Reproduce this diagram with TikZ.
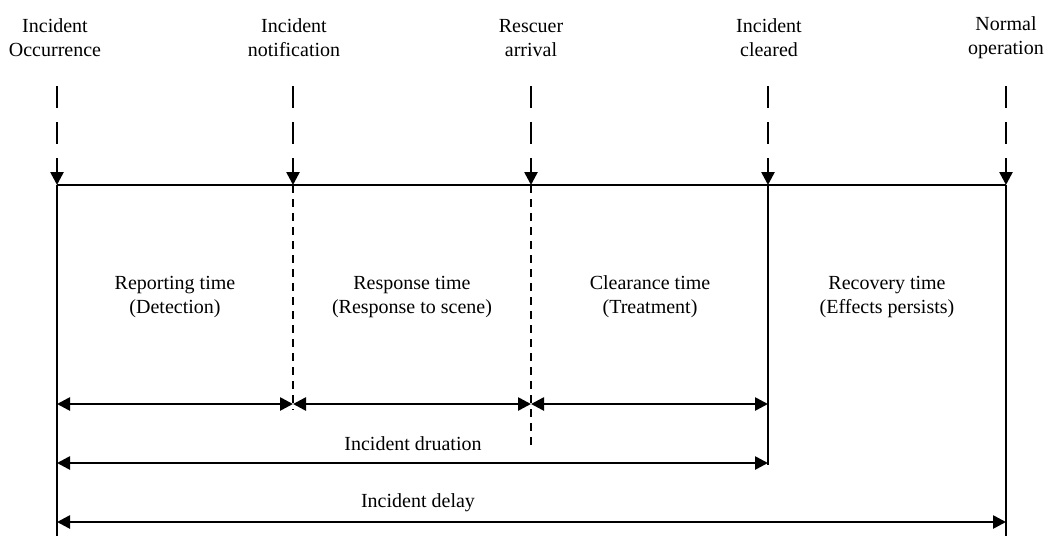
\documentclass[tikz,border=0pt]{standalone}
\usepackage{fontspec}
\setmainfont{Liberation Serif}
\usetikzlibrary{arrows.meta}

\tikzset{
  evtext/.style={align=center,font=\fontsize{10}{12}\selectfont,inner sep=0pt},
  evarrow/.style={->,dash pattern=on 11pt off 7pt},
  divider/.style={dash pattern=on 4pt off 3pt},
}

\begin{document}
\begin{tikzpicture}[x=0.5pt,y=-0.5pt,line width=1.3pt,>={Triangle[length=6.5pt,width=6.5pt]}]
\useasboundingbox (0,0) rectangle (1045,536);
% events on top
\node[evtext] (occ) at (55,38) {Incident\\Occurrence};
\node[evtext] (notif) at (294,38) {Incident\\notification};
\node[evtext] (arr) at (531,38) {Rescuer\\arrival};
\node[evtext] (clr) at (769,38) {Incident\\cleared};
\node[evtext] (norm) at (1006,38) {Normal\\operation};
\coordinate (t1) at (57,86);
\coordinate (t2) at (293,86);
\coordinate (t3) at (531,86);
\coordinate (t4) at (768,86);
\coordinate (t5) at (1006,86);
\coordinate (b1) at (57,185);
\coordinate (b2) at (293,185);
\coordinate (b3) at (531,185);
\coordinate (b4) at (768,185);
\coordinate (b5) at (1006,185);
\draw[evarrow] (t1) -- (b1);
\draw[evarrow] (t2) -- (b2);
\draw[evarrow] (t3) -- (b3);
\draw[evarrow] (t4) -- (b4);
\draw[evarrow] (t5) -- (b5);
% time line and borders
\draw (b1) -- (b5);
\coordinate (e1) at (57,536);
\coordinate (e2) at (293,410);
\coordinate (e3) at (531,446);
\coordinate (e4) at (768,465);
\coordinate (e5) at (1006,536);
\draw (b1) -- (e1);
\draw[divider] (b2) -- (e2);
\draw[divider] (b3) -- (e3);
\draw (b4) -- (e4);
\draw (b5) -- (e5);
% periods
\node[evtext] (rep) at (175,297) {Reporting time\\(Detection)};
\node[evtext] (resp) at (412,297) {Response time\\(Response to scene)};
\node[evtext] (clear) at (650,297) {Clearance time\\(Treatment)};
\node[evtext] (recov) at (887,297) {Recovery time\\(Effects persists)};
\coordinate (a1) at (57,404);
\coordinate (a2) at (293,404);
\coordinate (a3) at (531,404);
\coordinate (a4) at (768,404);
\draw[<->] (a1) -- (a2);
\draw[<->] (a2) -- (a3);
\draw[<->] (a3) -- (a4);
% duration and delay
\node[evtext] (dur) at (413,444) {Incident druation};
\coordinate (d1) at (57,463);
\coordinate (d4) at (768,463);
\draw[<->] (d1) -- (d4);
\node[evtext] (del) at (418,503) {Incident delay};
\coordinate (y1) at (57,522);
\coordinate (y5) at (1006,522);
\draw[<->] (y1) -- (y5);
\end{tikzpicture}
\end{document}
